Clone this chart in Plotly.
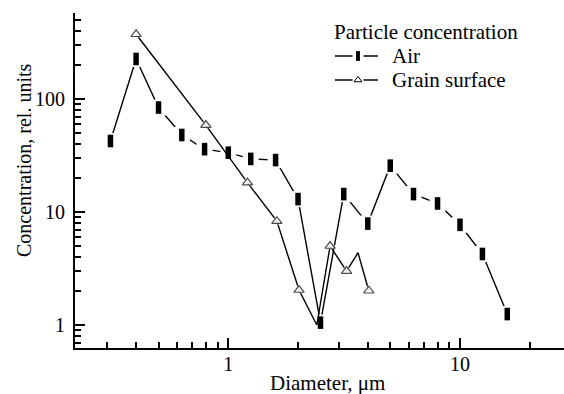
import plotly.graph_objects as go

# ---- data ----
air_x = [0.31, 0.40, 0.50, 0.63, 0.79, 1.0, 1.25, 1.6, 2.0, 2.5, 3.15, 4.0, 5.0, 6.3, 8.0, 10.0, 12.5, 16.0]
air_y = [42.5, 226, 84, 48, 36, 33.5, 29.5, 28.8, 13.0, 1.05, 14.4, 7.9, 25.7, 14.4, 11.9, 7.7, 4.25, 1.25]

grain_x = [0.40, 0.80, 1.21, 1.62, 2.02, 2.41, 2.75, 3.24, 3.63, 4.04]
grain_y = [374, 58.8, 18.2, 8.3, 2.04, 1.0, 5.0, 3.0, 4.36, 2.01]
grain_marked = [True, True, True, True, True, False, True, True, False, True]

x_tickvals = [1, 10]
x_ticktext = ["1", "10"]
y_tickvals = [1, 10, 100]
y_ticktext = ["1", "10", "100"]

legend_title = "Particle concentration"
air_name = "Air"
grain_name = "Grain surface"
x_title = "Diameter, \u03bcm"
y_title = "Concentration, rel. units"

FONT = "Liberation Serif, Times New Roman, serif"
BLACK = "#000"

x_minor = [0.3, 0.4, 0.5, 0.6, 0.7, 0.8, 0.9, 2, 3, 4, 5, 6, 7, 8, 9, 20]
y_minor = [0.7, 0.8, 0.9] + list(range(2, 10)) + list(range(20, 100, 10)) + list(range(200, 600, 100))

grain_sizes = [9 if m else 0 for m in grain_marked]
grain_halo = [13 if m else 0 for m in grain_marked]

L, R, T, B = 75, 0, 13, 46
W, H = 564, 394
PW, PH = W - L - R, H - T - B

fig = go.Figure()

# Air: line, white halo (gap), rectangular markers
fig.add_trace(go.Scatter(x=air_x, y=air_y, mode="lines", line=dict(color=BLACK, width=1.4),
                         showlegend=False, hoverinfo="skip"))
fig.add_trace(go.Scatter(x=air_x, y=air_y, mode="markers",
                         marker=dict(symbol="square", size=16, color="white", line=dict(width=0)),
                         showlegend=False, hoverinfo="skip"))
fig.add_trace(go.Scatter(x=air_x, y=air_y, mode="markers",
                         marker=dict(symbol="line-ns", size=9, color=BLACK, line=dict(color=BLACK, width=5.5)),
                         showlegend=False))

# Grain surface: line, halo, open triangles
fig.add_trace(go.Scatter(x=grain_x, y=grain_y, mode="lines", line=dict(color=BLACK, width=1.4),
                         showlegend=False, hoverinfo="skip"))
fig.add_trace(go.Scatter(x=grain_x, y=grain_y, mode="markers",
                         marker=dict(symbol="triangle-up", size=grain_halo, color="white", line=dict(width=0)),
                         showlegend=False, hoverinfo="skip"))
fig.add_trace(go.Scatter(x=grain_x, y=grain_y, mode="markers",
                         marker=dict(symbol="triangle-up", size=grain_sizes, color="white",
                                     line=dict(color=BLACK, width=1.2)),
                         showlegend=False))

# ---- hand-drawn legend on an overlay axis measured in plot pixels ----
def lx(px):
    return px - L

def ly(py):
    return (H - B) - py

leg_rows = [(air_name, 56), (grain_name, 80)]
sample_x0, sample_x1, sample_mid = 335, 378, 358

for name, row_y in leg_rows:
    fig.add_trace(go.Scatter(x=[lx(sample_x0), lx(sample_x1)], y=[ly(row_y), ly(row_y)],
                             mode="lines", line=dict(color=BLACK, width=1.4),
                             xaxis="x2", yaxis="y2", showlegend=False, hoverinfo="skip"))
    fig.add_trace(go.Scatter(x=[lx(sample_mid)], y=[ly(row_y)], mode="markers",
                             marker=dict(symbol="square", size=11, color="white", line=dict(width=0)),
                             xaxis="x2", yaxis="y2", showlegend=False, hoverinfo="skip"))

fig.add_trace(go.Scatter(x=[lx(sample_mid)], y=[ly(leg_rows[0][1])], mode="markers",
                         marker=dict(symbol="line-ns", size=7, color=BLACK, line=dict(color=BLACK, width=4)),
                         xaxis="x2", yaxis="y2", showlegend=False, hoverinfo="skip"))
fig.add_trace(go.Scatter(x=[lx(sample_mid)], y=[ly(leg_rows[1][1])], mode="markers",
                         marker=dict(symbol="triangle-up", size=7, color="white", line=dict(color=BLACK, width=1)),
                         xaxis="x2", yaxis="y2", showlegend=False, hoverinfo="skip"))

annotations = [
    dict(text=legend_title, x=lx(332), y=ly(32), xref="x2", yref="y2", xanchor="left", yanchor="middle",
         showarrow=False, font=dict(family=FONT, size=21, color=BLACK)),
]
for name, row_y in leg_rows:
    annotations.append(dict(text=name, x=lx(390), y=ly(row_y), xref="x2", yref="y2", xanchor="left",
                            yanchor="middle", showarrow=False, font=dict(family=FONT, size=21, color=BLACK)))
annotations.append(dict(text=x_title, x=(327 - L) / PW, y=((H - B) - 383) / PH, xref="paper", yref="paper",
                        xanchor="center", yanchor="middle", showarrow=False,
                        font=dict(family=FONT, size=21, color=BLACK)))
annotations.append(dict(text=y_title, x=(24 - L) / PW, y=((H - B) - 160) / PH, xref="paper", yref="paper",
                        xanchor="center", yanchor="middle", textangle=-90, showarrow=False,
                        font=dict(family=FONT, size=20, color=BLACK)))

def axis(rng, tv, tt, minor_vals, standoff):
    return dict(type="log", range=rng, tickmode="array", tickvals=tv, ticktext=tt,
                showgrid=False, zeroline=False, showline=True, linecolor=BLACK, linewidth=2,
                ticks="inside", tickcolor=BLACK, tickwidth=1.5, ticklen=10, automargin=False,
                tickfont=dict(family=FONT, size=20, color=BLACK), mirror=False,
                minor=dict(tickmode="array", tickvals=minor_vals, ticks="inside", ticklen=6,
                           tickwidth=1.5, tickcolor=BLACK, showgrid=False),
                ticklabelstandoff=standoff)

fig.update_layout(
    width=W, height=H,
    margin=dict(l=L, r=R, t=T, b=B),
    paper_bgcolor="white", plot_bgcolor="white",
    font=dict(family=FONT, size=20, color=BLACK),
    showlegend=False,
    xaxis=axis([-0.6616, 1.4489], x_tickvals, x_ticktext, x_minor, -3),
    yaxis=axis([-0.2035, 2.761], y_tickvals, y_ticktext, y_minor, 4),
    xaxis2=dict(overlaying="x", range=[0, PW], visible=False, fixedrange=True),
    yaxis2=dict(overlaying="y", range=[0, PH], visible=False, fixedrange=True),
    annotations=annotations,
)

fig.write_html("out.html", config={"displayModeBar": False},
               post_script="document.body.style.margin='0';document.body.style.overflow='hidden';")
